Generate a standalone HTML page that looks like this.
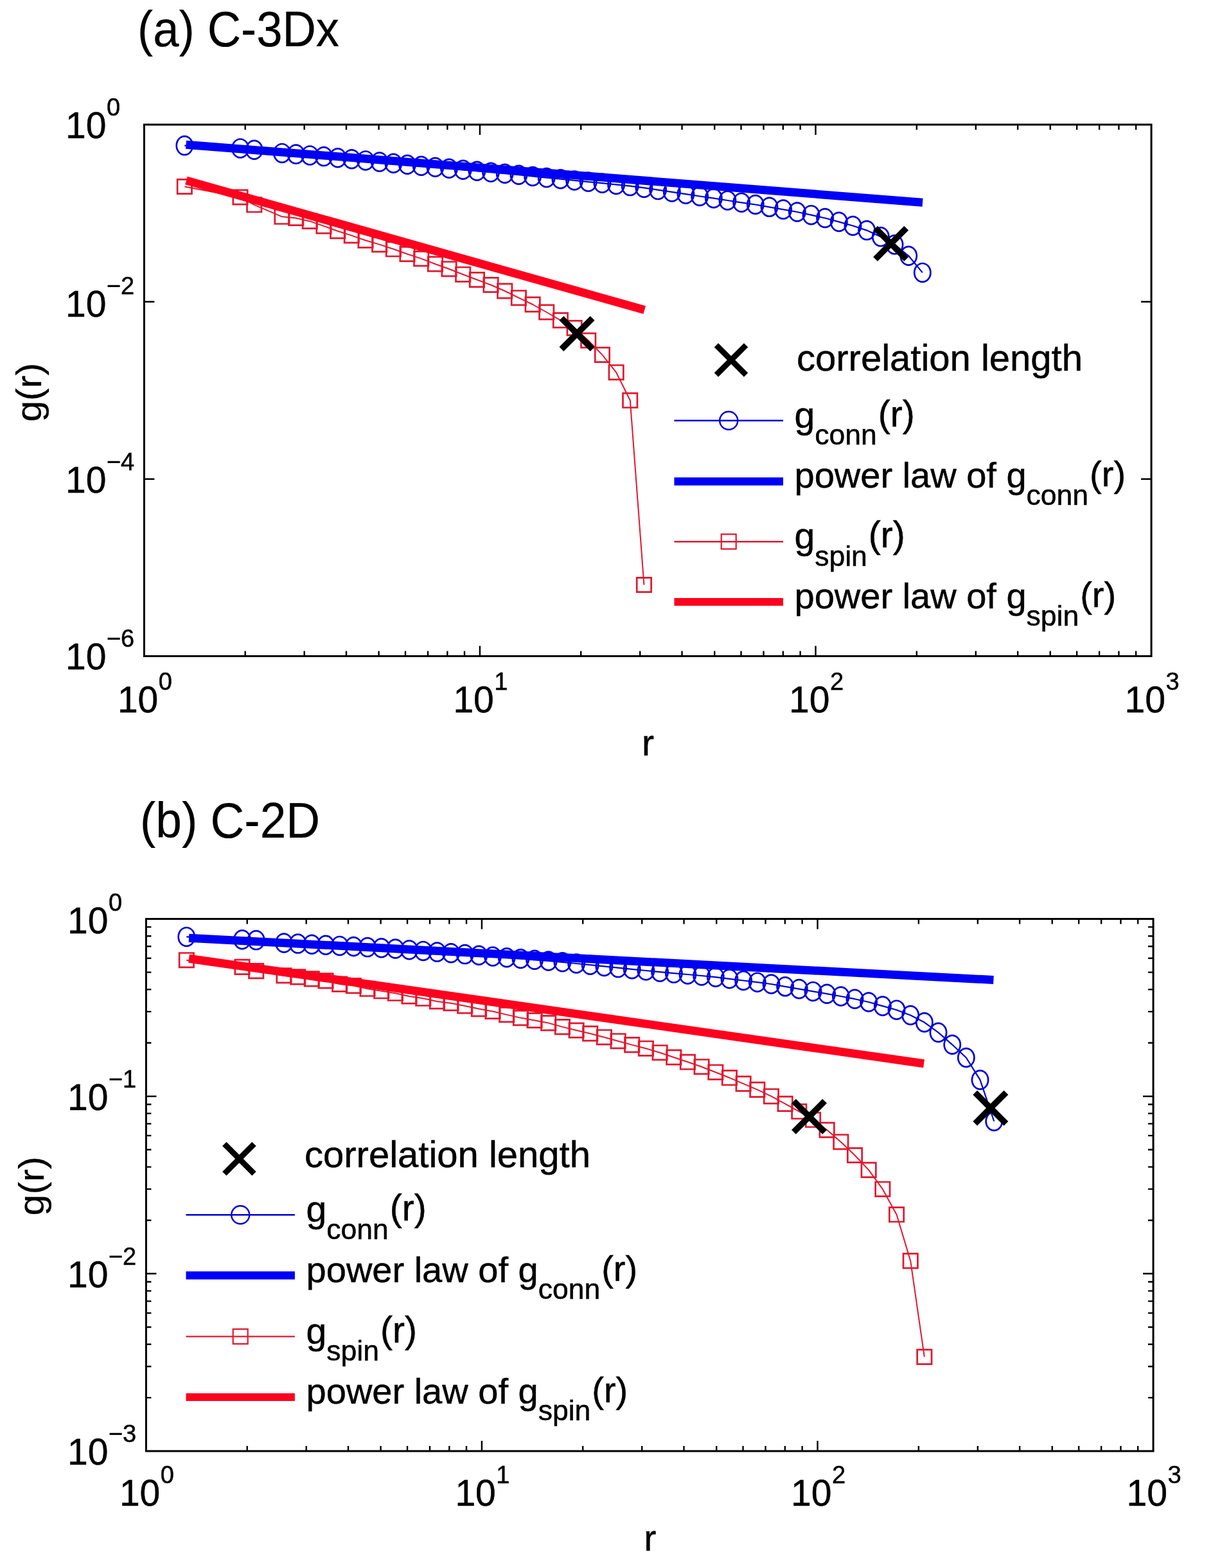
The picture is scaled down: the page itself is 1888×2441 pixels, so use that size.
<!DOCTYPE html>
<html><head><meta charset="utf-8"><title>g(r) correlation functions</title>
<style>html,body{margin:0;padding:0;background:#fff;overflow:hidden;}svg{display:block;}text{font-family:'Liberation Sans', Arial, Helvetica, sans-serif;fill:#000;stroke:#000;stroke-width:0.5px;}text.t{stroke-width:0.2px;}</style></head><body>
<svg width="1888" height="2441" viewBox="0 0 1888 2441">
<rect width="1888" height="2441" fill="#fff"/>
<text class="t" x="214" y="71.6" font-size="77" textLength="314" lengthAdjust="spacingAndGlyphs">(a) C-3Dx</text>
<text class="t" x="218" y="1303.7" font-size="77" textLength="280" lengthAdjust="spacingAndGlyphs">(b) C-2D</text>
<path d="M287.3 226.6L374 230.9L395.7 233.2L439 238.4L460.7 240.1L482.3 241.9L504 243.6L525.7 245.7L547.4 247.8L569 249.9L590.7 252.1L612.4 254.3L634 256.3L655.7 258.3L677.4 260.3L699 262.3L720.7 264.2L742.4 266.2L764 268.2L785.7 270.2L807.4 272.2L829.1 274.4L850.7 276.6L872.4 278.7L894.1 280.9L915.7 283.1L937.4 285.2L959.1 287.4L980.8 289.6L1002.4 292.4L1024.1 295.6L1045.8 298.9L1067.4 302.2L1089.1 305.5L1110.8 308.7L1132.4 312L1154.1 315.3L1175.8 318.5L1197.5 322.3L1219.1 326.1L1240.8 330L1262.5 334.7L1284.1 339.5L1305.8 345.4L1327.5 351.5L1349.1 358.6L1370.8 368.6L1392.5 380.8L1414.2 398.3L1435.8 424.4" fill="none" stroke="#0000d8" stroke-width="2.2" stroke-linejoin="round"/>
<path d="M274.7 226.6a12.6 14.4 0 1 0 25.2 0a12.6 14.4 0 1 0 -25.2 0M361.4 230.9a12.6 14.4 0 1 0 25.2 0a12.6 14.4 0 1 0 -25.2 0M383.1 233.2a12.6 14.4 0 1 0 25.2 0a12.6 14.4 0 1 0 -25.2 0M426.4 238.4a12.6 14.4 0 1 0 25.2 0a12.6 14.4 0 1 0 -25.2 0M448.1 240.1a12.6 14.4 0 1 0 25.2 0a12.6 14.4 0 1 0 -25.2 0M469.7 241.9a12.6 14.4 0 1 0 25.2 0a12.6 14.4 0 1 0 -25.2 0M491.4 243.6a12.6 14.4 0 1 0 25.2 0a12.6 14.4 0 1 0 -25.2 0M513.1 245.7a12.6 14.4 0 1 0 25.2 0a12.6 14.4 0 1 0 -25.2 0M534.8 247.8a12.6 14.4 0 1 0 25.2 0a12.6 14.4 0 1 0 -25.2 0M556.4 249.9a12.6 14.4 0 1 0 25.2 0a12.6 14.4 0 1 0 -25.2 0M578.1 252.1a12.6 14.4 0 1 0 25.2 0a12.6 14.4 0 1 0 -25.2 0M599.8 254.3a12.6 14.4 0 1 0 25.2 0a12.6 14.4 0 1 0 -25.2 0M621.4 256.3a12.6 14.4 0 1 0 25.2 0a12.6 14.4 0 1 0 -25.2 0M643.1 258.3a12.6 14.4 0 1 0 25.2 0a12.6 14.4 0 1 0 -25.2 0M664.8 260.3a12.6 14.4 0 1 0 25.2 0a12.6 14.4 0 1 0 -25.2 0M686.4 262.3a12.6 14.4 0 1 0 25.2 0a12.6 14.4 0 1 0 -25.2 0M708.1 264.2a12.6 14.4 0 1 0 25.2 0a12.6 14.4 0 1 0 -25.2 0M729.8 266.2a12.6 14.4 0 1 0 25.2 0a12.6 14.4 0 1 0 -25.2 0M751.4 268.2a12.6 14.4 0 1 0 25.2 0a12.6 14.4 0 1 0 -25.2 0M773.1 270.2a12.6 14.4 0 1 0 25.2 0a12.6 14.4 0 1 0 -25.2 0M794.8 272.2a12.6 14.4 0 1 0 25.2 0a12.6 14.4 0 1 0 -25.2 0M816.5 274.4a12.6 14.4 0 1 0 25.2 0a12.6 14.4 0 1 0 -25.2 0M838.1 276.6a12.6 14.4 0 1 0 25.2 0a12.6 14.4 0 1 0 -25.2 0M859.8 278.7a12.6 14.4 0 1 0 25.2 0a12.6 14.4 0 1 0 -25.2 0M881.5 280.9a12.6 14.4 0 1 0 25.2 0a12.6 14.4 0 1 0 -25.2 0M903.1 283.1a12.6 14.4 0 1 0 25.2 0a12.6 14.4 0 1 0 -25.2 0M924.8 285.2a12.6 14.4 0 1 0 25.2 0a12.6 14.4 0 1 0 -25.2 0M946.5 287.4a12.6 14.4 0 1 0 25.2 0a12.6 14.4 0 1 0 -25.2 0M968.1 289.6a12.6 14.4 0 1 0 25.2 0a12.6 14.4 0 1 0 -25.2 0M989.8 292.4a12.6 14.4 0 1 0 25.2 0a12.6 14.4 0 1 0 -25.2 0M1011.5 295.6a12.6 14.4 0 1 0 25.2 0a12.6 14.4 0 1 0 -25.2 0M1033.2 298.9a12.6 14.4 0 1 0 25.2 0a12.6 14.4 0 1 0 -25.2 0M1054.8 302.2a12.6 14.4 0 1 0 25.2 0a12.6 14.4 0 1 0 -25.2 0M1076.5 305.5a12.6 14.4 0 1 0 25.2 0a12.6 14.4 0 1 0 -25.2 0M1098.2 308.7a12.6 14.4 0 1 0 25.2 0a12.6 14.4 0 1 0 -25.2 0M1119.8 312a12.6 14.4 0 1 0 25.2 0a12.6 14.4 0 1 0 -25.2 0M1141.5 315.3a12.6 14.4 0 1 0 25.2 0a12.6 14.4 0 1 0 -25.2 0M1163.2 318.5a12.6 14.4 0 1 0 25.2 0a12.6 14.4 0 1 0 -25.2 0M1184.9 322.3a12.6 14.4 0 1 0 25.2 0a12.6 14.4 0 1 0 -25.2 0M1206.5 326.1a12.6 14.4 0 1 0 25.2 0a12.6 14.4 0 1 0 -25.2 0M1228.2 330a12.6 14.4 0 1 0 25.2 0a12.6 14.4 0 1 0 -25.2 0M1249.9 334.7a12.6 14.4 0 1 0 25.2 0a12.6 14.4 0 1 0 -25.2 0M1271.5 339.5a12.6 14.4 0 1 0 25.2 0a12.6 14.4 0 1 0 -25.2 0M1293.2 345.4a12.6 14.4 0 1 0 25.2 0a12.6 14.4 0 1 0 -25.2 0M1314.9 351.5a12.6 14.4 0 1 0 25.2 0a12.6 14.4 0 1 0 -25.2 0M1336.5 358.6a12.6 14.4 0 1 0 25.2 0a12.6 14.4 0 1 0 -25.2 0M1358.2 368.6a12.6 14.4 0 1 0 25.2 0a12.6 14.4 0 1 0 -25.2 0M1379.9 380.8a12.6 14.4 0 1 0 25.2 0a12.6 14.4 0 1 0 -25.2 0M1401.6 398.3a12.6 14.4 0 1 0 25.2 0a12.6 14.4 0 1 0 -25.2 0M1423.2 424.4a12.6 14.4 0 1 0 25.2 0a12.6 14.4 0 1 0 -25.2 0" fill="none" stroke="#0000d8" stroke-width="2.7"/>
<path d="M287.3 290.5L374 307L395.7 318.8L439 337.3L460.7 339.5L482.3 344.4L504 351.9L525.7 359.7L547.4 366.6L569 374.2L590.7 380.6L612.4 387.8L634 395.5L655.7 402.6L677.4 411L699 418.7L720.7 427.2L742.4 435.5L764 443.5L785.7 453L807.4 463.7L829.1 474L850.7 486L872.4 498.6L894.1 510.6L915.7 530L937.4 552.4L959.1 579.7L980.8 623.3L1002.4 910.5" fill="none" stroke="#e0182f" stroke-width="2.0" stroke-linejoin="round"/>
<path d="M276.1 279.3h22.4v22.4h-22.4zM362.8 295.8h22.4v22.4h-22.4zM384.5 307.6h22.4v22.4h-22.4zM427.8 326.1h22.4v22.4h-22.4zM449.5 328.3h22.4v22.4h-22.4zM471.1 333.2h22.4v22.4h-22.4zM492.8 340.7h22.4v22.4h-22.4zM514.5 348.5h22.4v22.4h-22.4zM536.1 355.4h22.4v22.4h-22.4zM557.8 363h22.4v22.4h-22.4zM579.5 369.4h22.4v22.4h-22.4zM601.2 376.6h22.4v22.4h-22.4zM622.8 384.3h22.4v22.4h-22.4zM644.5 391.4h22.4v22.4h-22.4zM666.2 399.8h22.4v22.4h-22.4zM687.8 407.5h22.4v22.4h-22.4zM709.5 416h22.4v22.4h-22.4zM731.2 424.3h22.4v22.4h-22.4zM752.8 432.3h22.4v22.4h-22.4zM774.5 441.8h22.4v22.4h-22.4zM796.2 452.5h22.4v22.4h-22.4zM817.9 462.8h22.4v22.4h-22.4zM839.5 474.8h22.4v22.4h-22.4zM861.2 487.4h22.4v22.4h-22.4zM882.9 499.4h22.4v22.4h-22.4zM904.5 518.8h22.4v22.4h-22.4zM926.2 541.2h22.4v22.4h-22.4zM947.9 568.5h22.4v22.4h-22.4zM969.5 612.1h22.4v22.4h-22.4zM991.2 899.3h22.4v22.4h-22.4z" fill="none" stroke="#e0182f" stroke-width="2.7"/>
<path d="M289.5 225.2L1436 315.2" stroke="#0000f6" stroke-width="13"/>
<path d="M290 281L1003.2 482.6" stroke="#ff001e" stroke-width="13"/>
<path d="M1362.5 355.1L1410.7 403.3M1362.5 403.3L1410.7 355.1" stroke="#000" stroke-width="9.6" fill="none"/>
<path d="M873.9 495.3L922.1 543.5M873.9 543.5L922.1 495.3" stroke="#000" stroke-width="9.6" fill="none"/>
<rect x="224.4" y="194" width="1567.6" height="827.5" fill="none" stroke="#000" stroke-width="3"/>
<path d="M381.7 1021.5L381.7 1013.5M381.7 194L381.7 202M473.7 1021.5L473.7 1013.5M473.7 194L473.7 202M539 1021.5L539 1013.5M539 194L539 202M589.6 1021.5L589.6 1013.5M589.6 194L589.6 202M631 1021.5L631 1013.5M631 194L631 202M666 1021.5L666 1013.5M666 194L666 202M696.3 1021.5L696.3 1013.5M696.3 194L696.3 202M723 1021.5L723 1013.5M723 194L723 202M746.9 1021.5L746.9 1013.5M746.9 194L746.9 202M904.2 1021.5L904.2 1013.5M904.2 194L904.2 202M996.2 1021.5L996.2 1013.5M996.2 194L996.2 202M1061.5 1021.5L1061.5 1013.5M1061.5 194L1061.5 202M1112.2 1021.5L1112.2 1013.5M1112.2 194L1112.2 202M1153.5 1021.5L1153.5 1013.5M1153.5 194L1153.5 202M1188.5 1021.5L1188.5 1013.5M1188.5 194L1188.5 202M1218.8 1021.5L1218.8 1013.5M1218.8 194L1218.8 202M1245.6 1021.5L1245.6 1013.5M1245.6 194L1245.6 202M1269.5 1021.5L1269.5 1013.5M1269.5 194L1269.5 202M1426.8 1021.5L1426.8 1013.5M1426.8 194L1426.8 202M1518.8 1021.5L1518.8 1013.5M1518.8 194L1518.8 202M1584.1 1021.5L1584.1 1013.5M1584.1 194L1584.1 202M1634.7 1021.5L1634.7 1013.5M1634.7 194L1634.7 202M1676.1 1021.5L1676.1 1013.5M1676.1 194L1676.1 202M1711.1 1021.5L1711.1 1013.5M1711.1 194L1711.1 202M1741.4 1021.5L1741.4 1013.5M1741.4 194L1741.4 202M1768.1 1021.5L1768.1 1013.5M1768.1 194L1768.1 202M746.9 1021.5L746.9 1005.5M746.9 194L746.9 210M1269.5 1021.5L1269.5 1005.5M1269.5 194L1269.5 210M224.4 469.8L240.4 469.8M1792 469.8L1776 469.8M224.4 745.7L240.4 745.7M1792 745.7L1776 745.7" stroke="#000" stroke-width="2.4" fill="none"/>
<text x="102" y="214.7" font-size="57" text-anchor="start">10<tspan font-size="38" dx="0.5" dy="-35">0</tspan></text>
<text x="102" y="492.8" font-size="57" text-anchor="start">10<tspan font-size="38" dx="0.5" dy="-35">−2</tspan></text>
<text x="102" y="767.3" font-size="57" text-anchor="start">10<tspan font-size="38" dx="0.5" dy="-35">−4</tspan></text>
<text x="102" y="1041.9" font-size="57" text-anchor="start">10<tspan font-size="38" dx="0.5" dy="-35">−6</tspan></text>
<text x="225.4" y="1108.7" font-size="57" text-anchor="middle">10<tspan font-size="38" dx="0.5" dy="-35">0</tspan></text>
<text x="747.9" y="1108.7" font-size="57" text-anchor="middle">10<tspan font-size="38" dx="0.5" dy="-35">1</tspan></text>
<text x="1270.5" y="1108.7" font-size="57" text-anchor="middle">10<tspan font-size="38" dx="0.5" dy="-35">2</tspan></text>
<text x="1793" y="1108.7" font-size="57" text-anchor="middle">10<tspan font-size="38" dx="0.5" dy="-35">3</tspan></text>
<text x="1008.5" y="1175.7" font-size="57" text-anchor="middle">r</text>
<text class="t" transform="translate(63.6 610.8) rotate(-90)" font-size="56" text-anchor="middle" textLength="92" lengthAdjust="spacingAndGlyphs">g(r)</text>
<path d="M1114.9 537.4L1161.1 583.6M1114.9 583.6L1161.1 537.4" stroke="#000" stroke-width="9" fill="none"/>
<text x="1240" y="576.7" font-size="57" textLength="445" lengthAdjust="spacingAndGlyphs">correlation length</text>
<path d="M1049.4 654.7H1219" stroke="#0000d8" stroke-width="2.4"/>
<path d="M1120.2 654.7a14 14 0 1 0 28 0a14 14 0 1 0 -28 0" fill="none" stroke="#0000d8" stroke-width="2.4"/>
<path d="M1049.4 749.4H1219" stroke="#0000f6" stroke-width="12.5"/>
<path d="M1049.4 843.2H1219" stroke="#e0182f" stroke-width="2.4"/>
<path d="M1122.7 831.7h23.0v23.0h-23.0z" fill="none" stroke="#e0182f" stroke-width="2.2"/>
<path d="M1049.4 937H1219" stroke="#ff001e" stroke-width="12"/>
<text x="1236.5" y="665.7" font-size="57">g<tspan font-size="44.5" dy="26.5">conn</tspan><tspan font-size="57" dx="2" dy="-28.5">(r)</tspan></text>
<text x="1236.5" y="759.4" font-size="56">power law of g<tspan font-size="44.5" dy="26.5">conn</tspan><tspan font-size="56" dx="2" dy="-28.5">(r)</tspan></text>
<text x="1236.5" y="854.2" font-size="57">g<tspan font-size="44.5" dy="26.5">spin</tspan><tspan font-size="57" dx="2" dy="-28.5">(r)</tspan></text>
<text x="1236.5" y="947" font-size="56">power law of g<tspan font-size="44.5" dy="26.5">spin</tspan><tspan font-size="56" dx="2" dy="-28.5">(r)</tspan></text>
<path d="M290.3 1458.4L377 1462.7L398.7 1463.6L442 1468L463.7 1469.1L485.3 1470.2L507 1471.3L528.7 1472.4L550.4 1473.5L572 1474.6L593.7 1475.7L615.4 1477L637 1478.7L658.7 1480.4L680.4 1482.1L702 1483.8L723.7 1485.6L745.4 1487.3L767 1489L788.7 1490.8L810.4 1492.5L832.1 1494.3L853.7 1496L875.4 1497.8L897.1 1500L918.7 1502.2L940.4 1504.4L962.1 1506.6L983.8 1508.8L1005.4 1511L1027.1 1513.1L1048.8 1515.1L1070.4 1517L1092.1 1519L1113.8 1521.1L1135.4 1523.8L1157.1 1526.5L1178.8 1529.2L1200.5 1532L1222.1 1535.8L1243.8 1539.6L1265.5 1543.4L1287.1 1547.2L1308.8 1551L1330.5 1555.2L1352.1 1560L1373.8 1566.1L1395.5 1572.2L1417.2 1580.5L1438.8 1591.6L1460.5 1607.4L1482.2 1626.3L1503.8 1646.5L1525.5 1681.1L1547.2 1745.5" fill="none" stroke="#0000d8" stroke-width="2.2" stroke-linejoin="round"/>
<path d="M277.7 1458.4a12.6 14.4 0 1 0 25.2 0a12.6 14.4 0 1 0 -25.2 0M364.4 1462.7a12.6 14.4 0 1 0 25.2 0a12.6 14.4 0 1 0 -25.2 0M386.1 1463.6a12.6 14.4 0 1 0 25.2 0a12.6 14.4 0 1 0 -25.2 0M429.4 1468a12.6 14.4 0 1 0 25.2 0a12.6 14.4 0 1 0 -25.2 0M451.1 1469.1a12.6 14.4 0 1 0 25.2 0a12.6 14.4 0 1 0 -25.2 0M472.7 1470.2a12.6 14.4 0 1 0 25.2 0a12.6 14.4 0 1 0 -25.2 0M494.4 1471.3a12.6 14.4 0 1 0 25.2 0a12.6 14.4 0 1 0 -25.2 0M516.1 1472.4a12.6 14.4 0 1 0 25.2 0a12.6 14.4 0 1 0 -25.2 0M537.8 1473.5a12.6 14.4 0 1 0 25.2 0a12.6 14.4 0 1 0 -25.2 0M559.4 1474.6a12.6 14.4 0 1 0 25.2 0a12.6 14.4 0 1 0 -25.2 0M581.1 1475.7a12.6 14.4 0 1 0 25.2 0a12.6 14.4 0 1 0 -25.2 0M602.8 1477a12.6 14.4 0 1 0 25.2 0a12.6 14.4 0 1 0 -25.2 0M624.4 1478.7a12.6 14.4 0 1 0 25.2 0a12.6 14.4 0 1 0 -25.2 0M646.1 1480.4a12.6 14.4 0 1 0 25.2 0a12.6 14.4 0 1 0 -25.2 0M667.8 1482.1a12.6 14.4 0 1 0 25.2 0a12.6 14.4 0 1 0 -25.2 0M689.4 1483.8a12.6 14.4 0 1 0 25.2 0a12.6 14.4 0 1 0 -25.2 0M711.1 1485.6a12.6 14.4 0 1 0 25.2 0a12.6 14.4 0 1 0 -25.2 0M732.8 1487.3a12.6 14.4 0 1 0 25.2 0a12.6 14.4 0 1 0 -25.2 0M754.4 1489a12.6 14.4 0 1 0 25.2 0a12.6 14.4 0 1 0 -25.2 0M776.1 1490.8a12.6 14.4 0 1 0 25.2 0a12.6 14.4 0 1 0 -25.2 0M797.8 1492.5a12.6 14.4 0 1 0 25.2 0a12.6 14.4 0 1 0 -25.2 0M819.5 1494.3a12.6 14.4 0 1 0 25.2 0a12.6 14.4 0 1 0 -25.2 0M841.1 1496a12.6 14.4 0 1 0 25.2 0a12.6 14.4 0 1 0 -25.2 0M862.8 1497.8a12.6 14.4 0 1 0 25.2 0a12.6 14.4 0 1 0 -25.2 0M884.5 1500a12.6 14.4 0 1 0 25.2 0a12.6 14.4 0 1 0 -25.2 0M906.1 1502.2a12.6 14.4 0 1 0 25.2 0a12.6 14.4 0 1 0 -25.2 0M927.8 1504.4a12.6 14.4 0 1 0 25.2 0a12.6 14.4 0 1 0 -25.2 0M949.5 1506.6a12.6 14.4 0 1 0 25.2 0a12.6 14.4 0 1 0 -25.2 0M971.1 1508.8a12.6 14.4 0 1 0 25.2 0a12.6 14.4 0 1 0 -25.2 0M992.8 1511a12.6 14.4 0 1 0 25.2 0a12.6 14.4 0 1 0 -25.2 0M1014.5 1513.1a12.6 14.4 0 1 0 25.2 0a12.6 14.4 0 1 0 -25.2 0M1036.2 1515.1a12.6 14.4 0 1 0 25.2 0a12.6 14.4 0 1 0 -25.2 0M1057.8 1517a12.6 14.4 0 1 0 25.2 0a12.6 14.4 0 1 0 -25.2 0M1079.5 1519a12.6 14.4 0 1 0 25.2 0a12.6 14.4 0 1 0 -25.2 0M1101.2 1521.1a12.6 14.4 0 1 0 25.2 0a12.6 14.4 0 1 0 -25.2 0M1122.8 1523.8a12.6 14.4 0 1 0 25.2 0a12.6 14.4 0 1 0 -25.2 0M1144.5 1526.5a12.6 14.4 0 1 0 25.2 0a12.6 14.4 0 1 0 -25.2 0M1166.2 1529.2a12.6 14.4 0 1 0 25.2 0a12.6 14.4 0 1 0 -25.2 0M1187.9 1532a12.6 14.4 0 1 0 25.2 0a12.6 14.4 0 1 0 -25.2 0M1209.5 1535.8a12.6 14.4 0 1 0 25.2 0a12.6 14.4 0 1 0 -25.2 0M1231.2 1539.6a12.6 14.4 0 1 0 25.2 0a12.6 14.4 0 1 0 -25.2 0M1252.9 1543.4a12.6 14.4 0 1 0 25.2 0a12.6 14.4 0 1 0 -25.2 0M1274.5 1547.2a12.6 14.4 0 1 0 25.2 0a12.6 14.4 0 1 0 -25.2 0M1296.2 1551a12.6 14.4 0 1 0 25.2 0a12.6 14.4 0 1 0 -25.2 0M1317.9 1555.2a12.6 14.4 0 1 0 25.2 0a12.6 14.4 0 1 0 -25.2 0M1339.5 1560a12.6 14.4 0 1 0 25.2 0a12.6 14.4 0 1 0 -25.2 0M1361.2 1566.1a12.6 14.4 0 1 0 25.2 0a12.6 14.4 0 1 0 -25.2 0M1382.9 1572.2a12.6 14.4 0 1 0 25.2 0a12.6 14.4 0 1 0 -25.2 0M1404.6 1580.5a12.6 14.4 0 1 0 25.2 0a12.6 14.4 0 1 0 -25.2 0M1426.2 1591.6a12.6 14.4 0 1 0 25.2 0a12.6 14.4 0 1 0 -25.2 0M1447.9 1607.4a12.6 14.4 0 1 0 25.2 0a12.6 14.4 0 1 0 -25.2 0M1469.6 1626.3a12.6 14.4 0 1 0 25.2 0a12.6 14.4 0 1 0 -25.2 0M1491.2 1646.5a12.6 14.4 0 1 0 25.2 0a12.6 14.4 0 1 0 -25.2 0M1512.9 1681.1a12.6 14.4 0 1 0 25.2 0a12.6 14.4 0 1 0 -25.2 0M1534.6 1745.5a12.6 14.4 0 1 0 25.2 0a12.6 14.4 0 1 0 -25.2 0" fill="none" stroke="#0000d8" stroke-width="2.7"/>
<path d="M290.3 1494.7L377 1505.4L398.7 1511.6L442 1518.7L463.7 1520.9L485.3 1523.9L507 1526.9L528.7 1532.1L550.4 1534.6L572 1539.3L593.7 1542.8L615.4 1546.3L637 1551L658.7 1554.3L680.4 1558.9L702 1561.7L723.7 1565.9L745.4 1570.6L767 1574.5L788.7 1579.6L810.4 1584.6L832.1 1588.5L853.7 1592.6L875.4 1598.6L897.1 1604L918.7 1609L940.4 1614.7L962.1 1620.7L983.8 1626.6L1005.4 1632.2L1027.1 1638.7L1048.8 1646L1070.4 1653.3L1092.1 1660.7L1113.8 1669.2L1135.4 1677.8L1157.1 1687.1L1178.8 1696.4L1200.5 1706.7L1222.1 1718.4L1243.8 1730.3L1265.5 1743.3L1287.1 1759.1L1308.8 1777.7L1330.5 1798.5L1352.1 1821.4L1373.8 1851.2L1395.5 1890.8L1417.2 1962.9L1438.8 2112.4" fill="none" stroke="#e0182f" stroke-width="2.0" stroke-linejoin="round"/>
<path d="M279.1 1483.5h22.4v22.4h-22.4zM365.8 1494.2h22.4v22.4h-22.4zM387.5 1500.4h22.4v22.4h-22.4zM430.8 1507.5h22.4v22.4h-22.4zM452.5 1509.7h22.4v22.4h-22.4zM474.1 1512.7h22.4v22.4h-22.4zM495.8 1515.7h22.4v22.4h-22.4zM517.5 1520.9h22.4v22.4h-22.4zM539.1 1523.4h22.4v22.4h-22.4zM560.8 1528.1h22.4v22.4h-22.4zM582.5 1531.6h22.4v22.4h-22.4zM604.2 1535.1h22.4v22.4h-22.4zM625.8 1539.8h22.4v22.4h-22.4zM647.5 1543.1h22.4v22.4h-22.4zM669.2 1547.7h22.4v22.4h-22.4zM690.8 1550.5h22.4v22.4h-22.4zM712.5 1554.7h22.4v22.4h-22.4zM734.2 1559.4h22.4v22.4h-22.4zM755.8 1563.3h22.4v22.4h-22.4zM777.5 1568.4h22.4v22.4h-22.4zM799.2 1573.4h22.4v22.4h-22.4zM820.9 1577.3h22.4v22.4h-22.4zM842.5 1581.4h22.4v22.4h-22.4zM864.2 1587.4h22.4v22.4h-22.4zM885.9 1592.8h22.4v22.4h-22.4zM907.5 1597.8h22.4v22.4h-22.4zM929.2 1603.5h22.4v22.4h-22.4zM950.9 1609.5h22.4v22.4h-22.4zM972.5 1615.4h22.4v22.4h-22.4zM994.2 1621h22.4v22.4h-22.4zM1015.9 1627.5h22.4v22.4h-22.4zM1037.6 1634.8h22.4v22.4h-22.4zM1059.2 1642.1h22.4v22.4h-22.4zM1080.9 1649.5h22.4v22.4h-22.4zM1102.6 1658h22.4v22.4h-22.4zM1124.2 1666.6h22.4v22.4h-22.4zM1145.9 1675.9h22.4v22.4h-22.4zM1167.6 1685.2h22.4v22.4h-22.4zM1189.2 1695.5h22.4v22.4h-22.4zM1210.9 1707.2h22.4v22.4h-22.4zM1232.6 1719.1h22.4v22.4h-22.4zM1254.3 1732.1h22.4v22.4h-22.4zM1275.9 1747.9h22.4v22.4h-22.4zM1297.6 1766.5h22.4v22.4h-22.4zM1319.3 1787.3h22.4v22.4h-22.4zM1340.9 1810.2h22.4v22.4h-22.4zM1362.6 1840h22.4v22.4h-22.4zM1384.3 1879.6h22.4v22.4h-22.4zM1406 1951.7h22.4v22.4h-22.4zM1427.6 2101.2h22.4v22.4h-22.4z" fill="none" stroke="#e0182f" stroke-width="2.7"/>
<path d="M294 1460.2L1546.4 1525.5" stroke="#0000f6" stroke-width="13"/>
<path d="M294 1492.2L1438 1655.8" stroke="#ff001e" stroke-width="13"/>
<path d="M1235.4 1714.2L1283.6 1762.4M1235.4 1762.4L1283.6 1714.2" stroke="#000" stroke-width="9.6" fill="none"/>
<path d="M1517.7 1700.9L1565.9 1749.1M1517.7 1749.1L1565.9 1700.9" stroke="#000" stroke-width="9.6" fill="none"/>
<rect x="227.4" y="1430.5" width="1567.6" height="828.5" fill="none" stroke="#000" stroke-width="3"/>
<path d="M384.7 2259L384.7 2251M384.7 1430.5L384.7 1438.5M476.7 2259L476.7 2251M476.7 1430.5L476.7 1438.5M542 2259L542 2251M542 1430.5L542 1438.5M592.6 2259L592.6 2251M592.6 1430.5L592.6 1438.5M634 2259L634 2251M634 1430.5L634 1438.5M669 2259L669 2251M669 1430.5L669 1438.5M699.3 2259L699.3 2251M699.3 1430.5L699.3 1438.5M726 2259L726 2251M726 1430.5L726 1438.5M749.9 2259L749.9 2251M749.9 1430.5L749.9 1438.5M907.2 2259L907.2 2251M907.2 1430.5L907.2 1438.5M999.2 2259L999.2 2251M999.2 1430.5L999.2 1438.5M1064.5 2259L1064.5 2251M1064.5 1430.5L1064.5 1438.5M1115.2 2259L1115.2 2251M1115.2 1430.5L1115.2 1438.5M1156.5 2259L1156.5 2251M1156.5 1430.5L1156.5 1438.5M1191.5 2259L1191.5 2251M1191.5 1430.5L1191.5 1438.5M1221.8 2259L1221.8 2251M1221.8 1430.5L1221.8 1438.5M1248.6 2259L1248.6 2251M1248.6 1430.5L1248.6 1438.5M1272.5 2259L1272.5 2251M1272.5 1430.5L1272.5 1438.5M1429.8 2259L1429.8 2251M1429.8 1430.5L1429.8 1438.5M1521.8 2259L1521.8 2251M1521.8 1430.5L1521.8 1438.5M1587.1 2259L1587.1 2251M1587.1 1430.5L1587.1 1438.5M1637.7 2259L1637.7 2251M1637.7 1430.5L1637.7 1438.5M1679.1 2259L1679.1 2251M1679.1 1430.5L1679.1 1438.5M1714.1 2259L1714.1 2251M1714.1 1430.5L1714.1 1438.5M1744.4 2259L1744.4 2251M1744.4 1430.5L1744.4 1438.5M1771.1 2259L1771.1 2251M1771.1 1430.5L1771.1 1438.5M749.9 2259L749.9 2243M749.9 1430.5L749.9 1446.5M1272.5 2259L1272.5 2243M1272.5 1430.5L1272.5 1446.5M227.4 1706.7L243.4 1706.7M1795 1706.7L1779 1706.7M227.4 1982.8L243.4 1982.8M1795 1982.8L1779 1982.8M227.4 1623.5L235.4 1623.5M1795 1623.5L1787 1623.5M227.4 1574.9L235.4 1574.9M1795 1574.9L1787 1574.9M227.4 1540.4L235.4 1540.4M1795 1540.4L1787 1540.4M227.4 1513.6L235.4 1513.6M1795 1513.6L1787 1513.6M227.4 1491.8L235.4 1491.8M1795 1491.8L1787 1491.8M227.4 1473.3L235.4 1473.3M1795 1473.3L1787 1473.3M227.4 1457.3L235.4 1457.3M1795 1457.3L1787 1457.3M227.4 1443.1L235.4 1443.1M1795 1443.1L1787 1443.1M227.4 1899.7L235.4 1899.7M1795 1899.7L1787 1899.7M227.4 1851.1L235.4 1851.1M1795 1851.1L1787 1851.1M227.4 1816.6L235.4 1816.6M1795 1816.6L1787 1816.6M227.4 1789.8L235.4 1789.8M1795 1789.8L1787 1789.8M227.4 1767.9L235.4 1767.9M1795 1767.9L1787 1767.9M227.4 1749.4L235.4 1749.4M1795 1749.4L1787 1749.4M227.4 1733.4L235.4 1733.4M1795 1733.4L1787 1733.4M227.4 1719.3L235.4 1719.3M1795 1719.3L1787 1719.3M227.4 2175.9L235.4 2175.9M1795 2175.9L1787 2175.9M227.4 2127.2L235.4 2127.2M1795 2127.2L1787 2127.2M227.4 2092.7L235.4 2092.7M1795 2092.7L1787 2092.7M227.4 2066L235.4 2066M1795 2066L1787 2066M227.4 2044.1L235.4 2044.1M1795 2044.1L1787 2044.1M227.4 2025.6L235.4 2025.6M1795 2025.6L1787 2025.6M227.4 2009.6L235.4 2009.6M1795 2009.6L1787 2009.6M227.4 1995.5L235.4 1995.5M1795 1995.5L1787 1995.5" stroke="#000" stroke-width="2.4" fill="none"/>
<text x="105" y="1452.5" font-size="57" text-anchor="start">10<tspan font-size="38" dx="0.5" dy="-35">0</tspan></text>
<text x="105" y="1728.1" font-size="57" text-anchor="start">10<tspan font-size="38" dx="0.5" dy="-35">−1</tspan></text>
<text x="105" y="2003.6" font-size="57" text-anchor="start">10<tspan font-size="38" dx="0.5" dy="-35">−2</tspan></text>
<text x="105" y="2279.5" font-size="57" text-anchor="start">10<tspan font-size="38" dx="0.5" dy="-35">−3</tspan></text>
<text x="228.4" y="2344" font-size="57" text-anchor="middle">10<tspan font-size="38" dx="0.5" dy="-35">0</tspan></text>
<text x="750.9" y="2344" font-size="57" text-anchor="middle">10<tspan font-size="38" dx="0.5" dy="-35">1</tspan></text>
<text x="1273.5" y="2344" font-size="57" text-anchor="middle">10<tspan font-size="38" dx="0.5" dy="-35">2</tspan></text>
<text x="1796" y="2344" font-size="57" text-anchor="middle">10<tspan font-size="38" dx="0.5" dy="-35">3</tspan></text>
<text x="1011.7" y="2413.8" font-size="57" text-anchor="middle">r</text>
<text class="t" transform="translate(68.2 1846.4) rotate(-90)" font-size="56" text-anchor="middle" textLength="92" lengthAdjust="spacingAndGlyphs">g(r)</text>
<path d="M349.3 1780.9L395.5 1827.1M349.3 1827.1L395.5 1780.9" stroke="#000" stroke-width="9" fill="none"/>
<text x="474" y="1817" font-size="57" textLength="445" lengthAdjust="spacingAndGlyphs">correlation length</text>
<path d="M289.5 1891.3H458.9" stroke="#0000d8" stroke-width="2.4"/>
<path d="M360.2 1891.3a14 14 0 1 0 28 0a14 14 0 1 0 -28 0" fill="none" stroke="#0000d8" stroke-width="2.4"/>
<path d="M289.5 1985.5H458.9" stroke="#0000f6" stroke-width="12.5"/>
<path d="M289.5 2080.6H458.9" stroke="#e0182f" stroke-width="2.4"/>
<path d="M362.7 2069.1h23.0v23.0h-23.0z" fill="none" stroke="#e0182f" stroke-width="2.2"/>
<path d="M289.5 2174.9H458.9" stroke="#ff001e" stroke-width="12"/>
<text x="476.6" y="1902.3" font-size="57">g<tspan font-size="44.5" dy="26.5">conn</tspan><tspan font-size="57" dx="2" dy="-28.5">(r)</tspan></text>
<text x="476.6" y="1995.5" font-size="56">power law of g<tspan font-size="44.5" dy="26.5">conn</tspan><tspan font-size="56" dx="2" dy="-28.5">(r)</tspan></text>
<text x="476.6" y="2091.6" font-size="57">g<tspan font-size="44.5" dy="26.5">spin</tspan><tspan font-size="57" dx="2" dy="-28.5">(r)</tspan></text>
<text x="476.6" y="2184.9" font-size="56">power law of g<tspan font-size="44.5" dy="26.5">spin</tspan><tspan font-size="56" dx="2" dy="-28.5">(r)</tspan></text>
</svg>
</body></html>
